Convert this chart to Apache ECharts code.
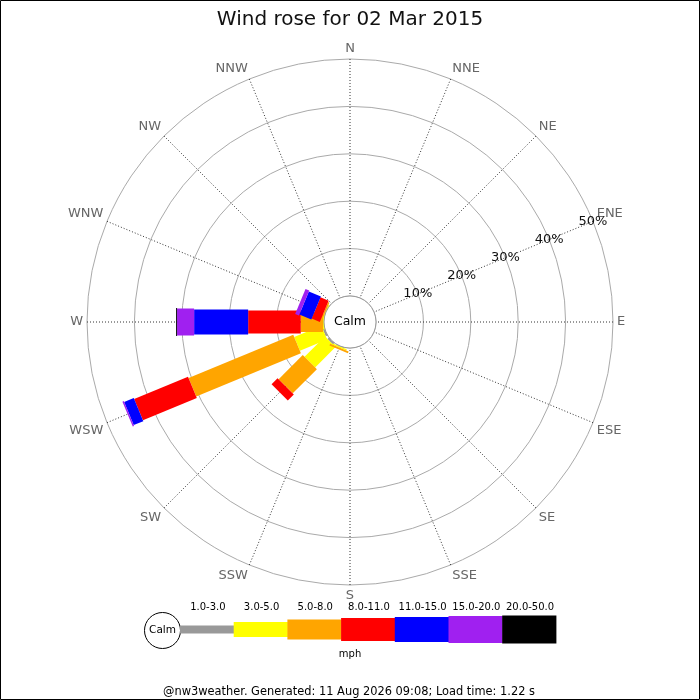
<!DOCTYPE html>
<html>
<head>
<meta charset="utf-8">
<script src="https://cdn.jsdelivr.net/npm/echarts@6/dist/echarts.min.js"></script>
<style>
html,body{margin:0;padding:0;background:#fff;}
#chart{width:700px;height:700px;}
</style>
</head>
<body>
<div id="chart"></div>
<script>
// ---- data ----
const DIRS = ['N','NNE','NE','ENE','E','ESE','SE','SSE','S','SSW','SW','WSW','W','WNW','NW','NNW'];
const BINS = ['1.0-3.0','3.0-5.0','5.0-8.0','8.0-11.0','11.0-15.0','15.0-20.0','20.0-50.0'];
const RING_TICKS = [0,10,20,30,40,50];
//                 N  NNE NE ENE E ESE SE SSE S  SSW   SW   WSW   W     WNW   NW NNW
const S_1_3   = [0, 0, 0, 0, 0, 0, 0, 0, 0, 0.1,  0.4, 0.4,  0,    0,    0, 0];
const S_3_5   = [0, 0, 0, 0, 0, 0, 0, 0, 0, 0.25, 6.1, 6.2,  0.2,  0.1,  0, 0];
const S_5_8   = [0, 0, 0, 0, 0, 0, 0, 0, 0, 0.4,  7.2, 23.9, 4.7,  0.3,  0, 0];
const S_8_11  = [0, 0, 0, 0, 0, 0, 0, 0, 0, 0,    1.8, 12.3, 11.1, 1.85, 0, 0];
const S_11_15 = [0, 0, 0, 0, 0, 0, 0, 0, 0, 0,    0,   2.2,  11.4, 2.75, 0, 0];
const S_15_20 = [0, 0, 0, 0, 0, 0, 0, 0, 0, 0,    0,   0.3,  3.6,  0.85, 0, 0];
const S_20_50 = [0, 0, 0, 0, 0, 0, 0, 0, 0, 0,    0,   0,    0.2,  0,    0, 0];
const SERIES_VALUES = [S_1_3, S_3_5, S_5_8, S_8_11, S_11_15, S_15_20, S_20_50];

// ---- style ----
const COLORS = ['#999999','#ffff00','#ffa500','#ff0000','#0000ff','#a020f0','#000000'];
const WIDTHS = [8, 15, 20, 23, 25, 27, 28];
const CENTER = [350, 322];
const INNER_R = 26, OUTER_R = 263;
const FONT = 'DejaVu Sans';
const STEP = 360 / DIRS.length;

// cumulative stacking
const cum = DIRS.map(() => 0);
const series = SERIES_VALUES.map((vals, b) => {
  const data = [];
  vals.forEach((v, i) => {
    if (v > 0) { data.push([i * STEP, cum[i], cum[i] + v]); cum[i] += v; }
  });
  return {
    type: 'custom',
    name: BINS[b],
    coordinateSystem: 'polar',
    polarIndex: 0,
    encode: { angle: 0, radius: 2 },
    z: 3 + b,
    data: data,
    renderItem: function (params, api) {
      const a = api.value(0), r0 = api.value(1), r1 = api.value(2);
      const pb = api.coord([r1, a]);
      const pa = r0 === 0 ? CENTER.slice() : api.coord([r0, a]);
      let dx = pb[0] - CENTER[0], dy = pb[1] - CENTER[1];
      const len = Math.sqrt(dx * dx + dy * dy) || 1;
      dx /= len; dy /= len;
      const h = WIDTHS[b] / 2;
      const nx = -dy * h, ny = dx * h;
      return {
        type: 'polygon',
        shape: { points: [
          [pa[0] + nx, pa[1] + ny], [pb[0] + nx, pb[1] + ny],
          [pb[0] - nx, pb[1] - ny], [pa[0] - nx, pa[1] - ny]
        ] },
        style: { fill: COLORS[b], stroke: null }
      };
    }
  };
});

// legend graphics
const LEG_X0 = 180, LEG_STEP = 53.7, LEG_CY = 629.5;
const graphics = [
  { type: 'rect', z: 200, shape: { x: 0.5, y: 0.5, width: 699, height: 699 },
    style: { fill: null, stroke: '#000', lineWidth: 1 } },
  { type: 'circle', z: 100, shape: { cx: CENTER[0], cy: CENTER[1], r: INNER_R },
    style: { fill: '#fff', stroke: '#999', lineWidth: 1 } },
  { type: 'text', z: 101, x: CENTER[0], y: CENTER[1],
    style: { text: 'Calm', fill: '#000', font: '12.5px "' + FONT + '"', align: 'center', verticalAlign: 'middle' } },
  { type: 'circle', z: 100, shape: { cx: 162.5, cy: LEG_CY + 1, r: 18 },
    style: { fill: '#fff', stroke: '#000', lineWidth: 1 } },
  { type: 'text', z: 101, x: 162.5, y: LEG_CY + 1,
    style: { text: 'Calm', fill: '#000', font: '10.5px "' + FONT + '"', align: 'center', verticalAlign: 'middle' } },
  { type: 'text', z: 101, x: 350, y: 654,
    style: { text: 'mph', fill: '#000', font: '10px "' + FONT + '"', align: 'center', verticalAlign: 'middle' } },
  { type: 'text', z: 101, x: 349, y: 692,
    style: { text: '@nw3weather. Generated: 11 Aug 2026 09:08; Load time: 1.22 s', fill: '#000', font: '11.4px "' + FONT + '"', align: 'center', verticalAlign: 'middle' } }
];
BINS.forEach((lab, b) => {
  const x = LEG_X0 + b * LEG_STEP;
  graphics.push({ type: 'rect', z: 100,
    shape: { x: x, y: LEG_CY - WIDTHS[b] / 2, width: LEG_STEP + 0.5, height: WIDTHS[b] },
    style: { fill: COLORS[b] } });
  graphics.push({ type: 'text', z: 101, x: x + LEG_STEP / 2 + 1, y: 607,
    style: { text: lab, fill: '#000', font: '10px "' + FONT + '"', align: 'center', verticalAlign: 'middle' } });
});

const chart = echarts.init(document.getElementById('chart'), null, { renderer: 'canvas' });
chart.setOption({
  animation: false,
  backgroundColor: '#fff',
  textStyle: { fontFamily: FONT },
  title: {
    text: 'Wind rose for 02 Mar 2015', left: 'center', top: 5,
    textStyle: { fontFamily: FONT, fontSize: 20, fontWeight: 'normal', color: '#111' }
  },
  polar: [
    { center: CENTER, radius: [INNER_R, OUTER_R] },
    { center: CENTER, radius: [INNER_R, OUTER_R] }
  ],
  angleAxis: [
    {
      polarIndex: 0, type: 'value', min: 0, max: 360, interval: STEP,
      startAngle: 90, clockwise: true,
      axisLine: { show: false }, axisTick: { show: false },
      axisLabel: { show: true, margin: 4, color: '#666', fontSize: 13, fontFamily: FONT,
        formatter: v => DIRS[Math.round(v / STEP) % DIRS.length] },
      splitLine: { show: true, lineStyle: { color: '#333', type: [1, 2], width: 1 } }
    },
    {
      polarIndex: 1, type: 'value', min: 0, max: 360, startAngle: 22.5, clockwise: true,
      axisLine: { show: false }, axisTick: { show: false }, axisLabel: { show: false },
      splitLine: { show: false }
    }
  ],
  radiusAxis: [
    {
      polarIndex: 0, type: 'value', min: RING_TICKS[0], max: RING_TICKS[RING_TICKS.length - 1], interval: 10,
      axisLine: { show: false }, axisTick: { show: false }, axisLabel: { show: false },
      splitLine: { show: true, lineStyle: { color: '#aaa', width: 1 } }
    },
    {
      polarIndex: 1, type: 'value', min: RING_TICKS[0], max: RING_TICKS[RING_TICKS.length - 1], interval: 10,
      axisLine: { show: false }, axisTick: { show: false }, splitLine: { show: false },
      axisLabel: { show: true, margin: 0, color: '#111', fontSize: 13, fontFamily: FONT,
        align: 'center', verticalAlign: 'middle', showMinLabel: true,
        formatter: v => (v === 0 ? '' : v + '%') }
    }
  ],
  series: series,
  graphic: graphics
});
</script>
</body>
</html>
